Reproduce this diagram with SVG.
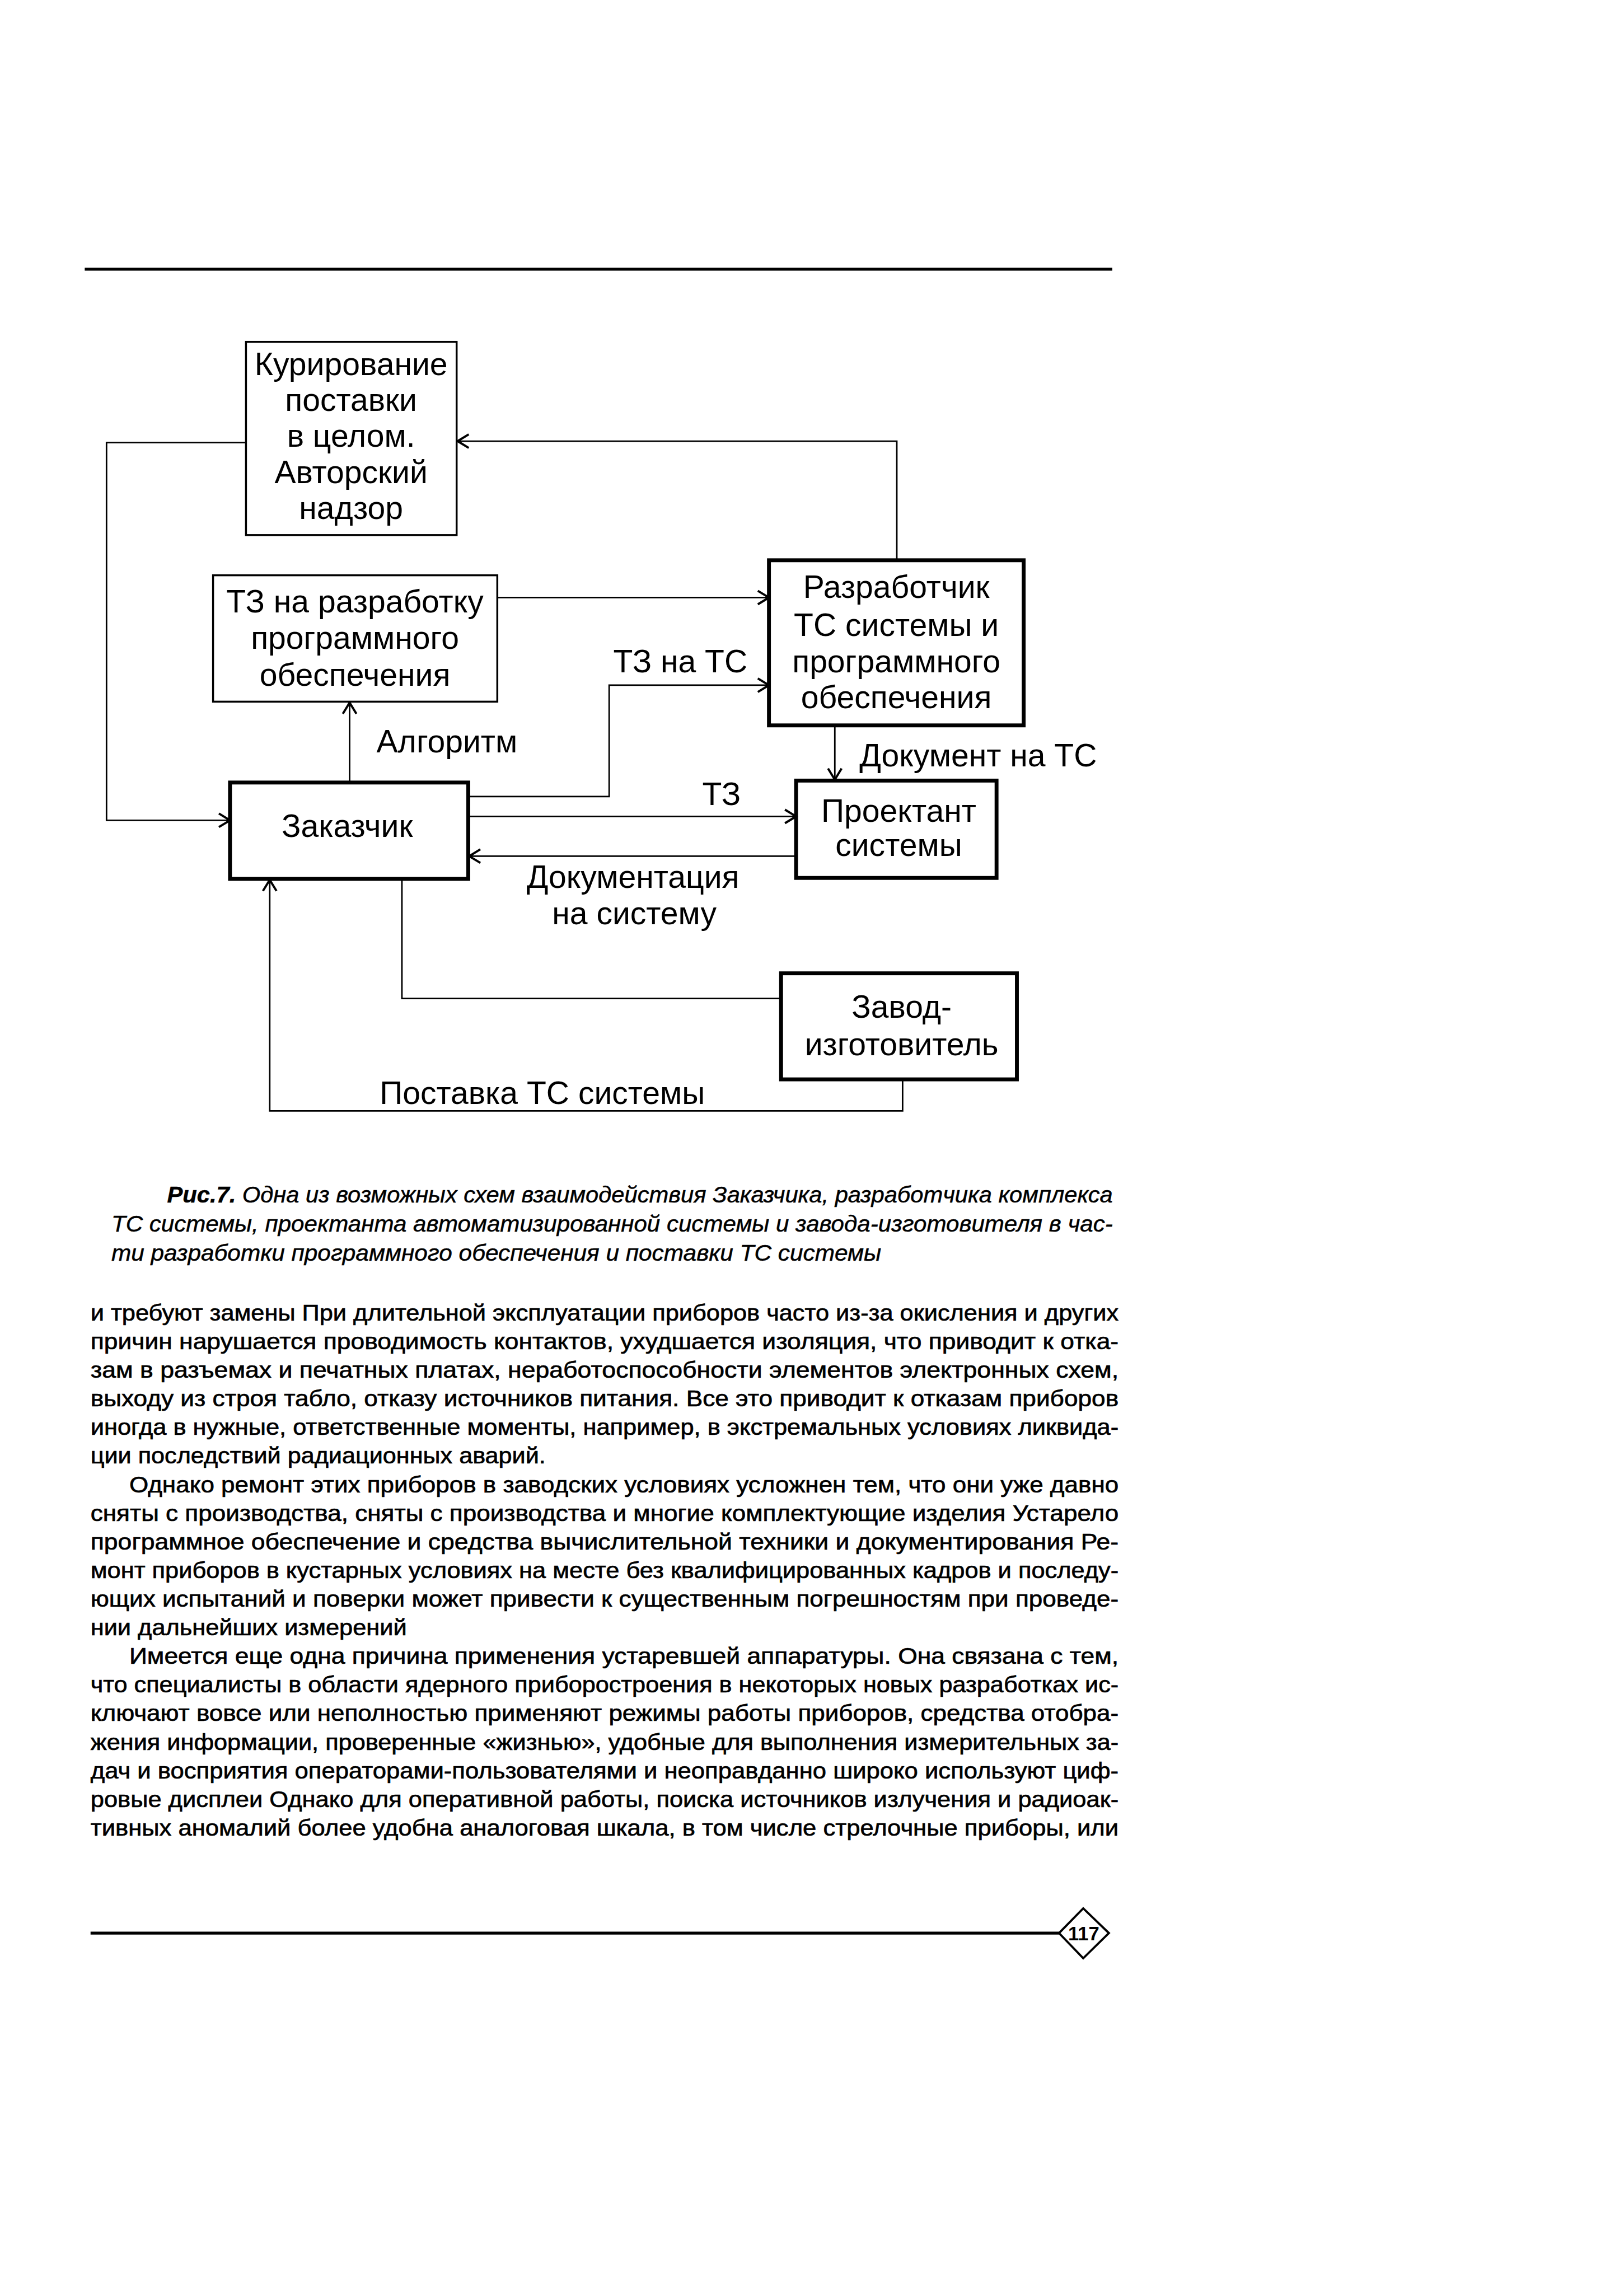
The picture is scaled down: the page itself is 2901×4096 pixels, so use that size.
<svg xmlns="http://www.w3.org/2000/svg" width="2901" height="4096" viewBox="0 0 2901 4096">
<style>
.box{fill:none;stroke:#000}
.thin{stroke-width:4}
.thick{stroke-width:8}
.con{fill:none;stroke:#000;stroke-width:3.2}
.lbl{font-family:"Liberation Sans",Arial,sans-serif;font-size:66px;fill:#000;text-anchor:middle}
.body{font-family:"Liberation Sans",Arial,sans-serif;font-size:46px;fill:#000;stroke:#000;stroke-width:0.8}
.cap{font-family:"Liberation Sans",Arial,sans-serif;font-size:48px;font-style:italic;fill:#000;stroke:#000;stroke-width:0.6}
.rule{stroke:#000;stroke-width:6}
</style>
<defs>
<marker id="arr" markerUnits="userSpaceOnUse" viewBox="-30 -20 34 40" refX="0" refY="0" markerWidth="34" markerHeight="40" orient="auto">
<path d="M-23,-14 L0,0 L-23,14" fill="none" stroke="#000" stroke-width="4.5"/>
</marker>
</defs>
<rect width="2901" height="4096" fill="#fff"/>
<g transform="scale(0.865)">
<line class="rule" x1="175" y1="556" x2="2297" y2="556"/>

<g id="connectors">
<polyline class="con" points="508,914 220,914 220,1694 475,1694" marker-end="url(#arr)"/>
<polyline class="con" points="1852,1157 1852,911 945,911" marker-end="url(#arr)"/>
<line class="con" x1="1027" y1="1234" x2="1588" y2="1234" marker-end="url(#arr)"/>
<polyline class="con" points="967,1645 1258,1645 1258,1415 1588,1415" marker-end="url(#arr)"/>
<line class="con" x1="722" y1="1616" x2="722" y2="1451" marker-end="url(#arr)"/>
<line class="con" x1="967" y1="1686" x2="1644" y2="1686" marker-end="url(#arr)"/>
<line class="con" x1="1644" y1="1768" x2="969" y2="1768" marker-end="url(#arr)"/>
<line class="con" x1="1724" y1="1498" x2="1724" y2="1610" marker-end="url(#arr)"/>
<polyline class="con" points="830,1815 830,2062 1613,2062"/>
<polyline class="con" points="1864,2229 1864,2294 557,2294 557,1817" marker-end="url(#arr)"/>
<text class="lbl" x="1405" y="1389">ТЗ на ТС</text>
<text class="lbl" x="923" y="1554">Алгоритм</text>
<text class="lbl" x="1490" y="1663">ТЗ</text>
<text class="lbl" x="2020" y="1583">Документ на ТС</text>
<text class="lbl" x="1307" y="1833">Документация</text>
<text class="lbl" x="1310" y="1909">на систему</text>
<text class="lbl" x="1120" y="2280">Поставка ТС системы</text>
</g>

<g id="kurirovanie">
<rect class="box thin" x="508" y="706" width="435" height="399"/>
<text class="lbl" x="725" y="774">Курирование</text>
<text class="lbl" x="725" y="848">поставки</text>
<text class="lbl" x="725" y="923">в целом.</text>
<text class="lbl" x="725" y="998">Авторский</text>
<text class="lbl" x="725" y="1072">надзор</text>
</g>

<g id="tz-po">
<rect class="box thin" x="440" y="1188" width="587" height="261"/>
<text class="lbl" x="733" y="1265">ТЗ на разработку</text>
<text class="lbl" x="733" y="1340">программного</text>
<text class="lbl" x="733" y="1416">обеспечения</text>
</g>

<g id="razrabotchik">
<rect class="box thick" x="1588" y="1157" width="526" height="341"/>
<text class="lbl" x="1851" y="1235">Разработчик</text>
<text class="lbl" x="1851" y="1313">ТС системы и</text>
<text class="lbl" x="1851" y="1389">программного</text>
<text class="lbl" x="1851" y="1462">обеспечения</text>
</g>

<g id="zakazchik">
<rect class="box thick" x="475" y="1616" width="492" height="199"/>
<text class="lbl" x="717" y="1728">Заказчик</text>
</g>

<g id="proektant">
<rect class="box thick" x="1644" y="1612" width="414" height="201"/>
<text class="lbl" x="1856" y="1697">Проектант</text>
<text class="lbl" x="1856" y="1768">системы</text>
</g>

<g id="zavod">
<rect class="box thick" x="1613" y="2010" width="487" height="219"/>
<text class="lbl" x="1862" y="2102">Завод-</text>
<text class="lbl" x="1862" y="2179">изготовитель</text>
</g>

<g id="caption">
<text class="cap" x="345" y="2483" textLength="1953" lengthAdjust="spacingAndGlyphs"><tspan font-weight="bold">Рис.7.</tspan> Одна из возможных схем взаимодействия Заказчика, разработчика комплекса</text>
<text class="cap" x="230" y="2543" textLength="2068" lengthAdjust="spacingAndGlyphs">ТС системы, проектанта автоматизированной системы и завода-изготовителя в час-</text>
<text class="cap" x="230" y="2604" textLength="1590" lengthAdjust="spacingAndGlyphs">ти разработки программного обеспечения и поставки ТС системы</text>
</g>

<g id="body">
<text class="body" x="187" y="2727" textLength="2123" lengthAdjust="spacingAndGlyphs">и требуют замены При длительной эксплуатации приборов часто из-за окисления и других</text>
<text class="body" x="187" y="2786" textLength="2123" lengthAdjust="spacingAndGlyphs">причин нарушается проводимость контактов, ухудшается изоляция, что приводит к отка-</text>
<text class="body" x="187" y="2845" textLength="2123" lengthAdjust="spacingAndGlyphs">зам в разъемах и печатных платах, неработоспособности элементов электронных схем,</text>
<text class="body" x="187" y="2904" textLength="2123" lengthAdjust="spacingAndGlyphs">выходу из строя табло, отказу источников питания. Все это приводит к отказам приборов</text>
<text class="body" x="187" y="2963" textLength="2123" lengthAdjust="spacingAndGlyphs">иногда в нужные, ответственные моменты, например, в экстремальных условиях ликвида-</text>
<text class="body" x="187" y="3022" textLength="940" lengthAdjust="spacingAndGlyphs">ции последствий радиационных аварий.</text>
<text class="body" x="267" y="3082" textLength="2043" lengthAdjust="spacingAndGlyphs">Однако ремонт этих приборов в заводских условиях усложнен тем, что они уже давно</text>
<text class="body" x="187" y="3141" textLength="2123" lengthAdjust="spacingAndGlyphs">сняты с производства, сняты с производства и многие комплектующие изделия Устарело</text>
<text class="body" x="187" y="3200" textLength="2123" lengthAdjust="spacingAndGlyphs">программное обеспечение и средства вычислительной техники и документирования Ре-</text>
<text class="body" x="187" y="3259" textLength="2123" lengthAdjust="spacingAndGlyphs">монт приборов в кустарных условиях на месте без квалифицированных кадров и последу-</text>
<text class="body" x="187" y="3318" textLength="2123" lengthAdjust="spacingAndGlyphs">ющих испытаний и поверки может привести к существенным погрешностям при проведе-</text>
<text class="body" x="187" y="3377" textLength="653" lengthAdjust="spacingAndGlyphs">нии дальнейших измерений</text>
<text class="body" x="267" y="3436" textLength="2043" lengthAdjust="spacingAndGlyphs">Имеется еще одна причина применения устаревшей аппаратуры. Она связана с тем,</text>
<text class="body" x="187" y="3495" textLength="2123" lengthAdjust="spacingAndGlyphs">что специалисты в области ядерного приборостроения в некоторых новых разработках ис-</text>
<text class="body" x="187" y="3554" textLength="2123" lengthAdjust="spacingAndGlyphs">ключают вовсе или неполностью применяют режимы работы приборов, средства отобра-</text>
<text class="body" x="187" y="3614" textLength="2123" lengthAdjust="spacingAndGlyphs">жения информации, проверенные «жизнью», удобные для выполнения измерительных за-</text>
<text class="body" x="187" y="3673" textLength="2123" lengthAdjust="spacingAndGlyphs">дач и восприятия операторами-пользователями и неоправданно широко используют циф-</text>
<text class="body" x="187" y="3732" textLength="2123" lengthAdjust="spacingAndGlyphs">ровые дисплеи Однако для оперативной работы, поиска источников излучения и радиоак-</text>
<text class="body" x="187" y="3791" textLength="2123" lengthAdjust="spacingAndGlyphs">тивных аномалий более удобна аналоговая шкала, в том числе стрелочные приборы, или</text>
</g>

<g id="footer">
<line class="rule" x1="187" y1="3992" x2="2187" y2="3992"/>
<polygon points="2187,3992 2237,3941 2290,3992 2237,4044" fill="#fff" stroke="#000" stroke-width="4.5"/>
<text x="2238" y="4007" font-family="'Liberation Sans',Arial,sans-serif" font-size="40" font-weight="bold" text-anchor="middle">117</text>
</g>
</g>
</svg>
